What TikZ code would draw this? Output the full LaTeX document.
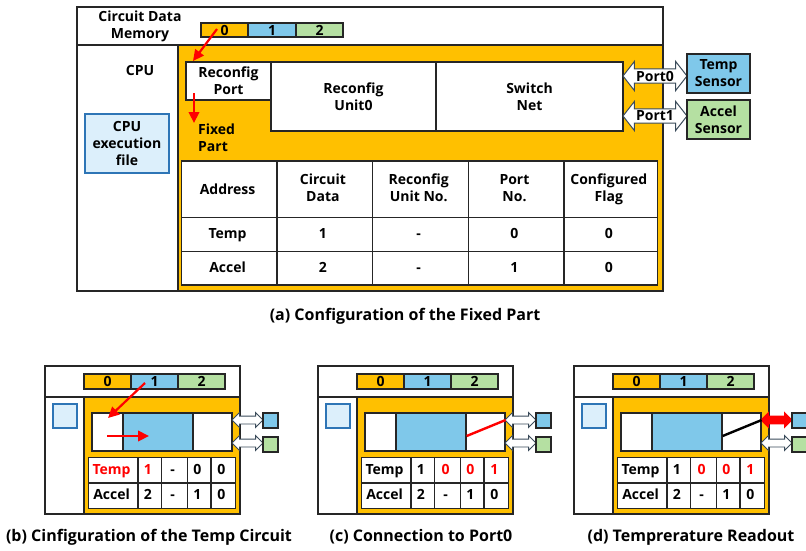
\documentclass[tikz,border=0pt]{standalone}
\usepackage{fontspec}
\setmainfont{Open Sans}
\usetikzlibrary{shapes.arrows,arrows.meta,matrix}

\definecolor{gold}{HTML}{FFC000}
\definecolor{skyfill}{HTML}{7FC8EA}
\definecolor{leaffill}{HTML}{B5E0A2}
\definecolor{filefill}{HTML}{DCEFFB}
\definecolor{filedraw}{HTML}{2E75B6}
\definecolor{portdraw}{HTML}{3A4B5A}
\definecolor{hotred}{HTML}{FF0000}

% two centred lines inside a matrix cell
\newcommand\twoline[2]{\begin{tabular}{@{}c@{}}#1\\#2\end{tabular}}

\tikzset{
  lbl/.style={font=\bfseries\fontsize{14}{17}\selectfont, align=center, inner sep=0},
  caption/.style={font=\bfseries\fontsize{16}{19}\selectfont, inner sep=0},
  frame/.style={draw=black!85, line width=1.3pt, inner sep=0},
  blockbox/.style={frame, fill=white},
  cell/.style={frame, fill=white, anchor=center, font=\bfseries\fontsize{14}{17}\selectfont, align=center},
  onerow/.style={text height=10.5pt, text depth=3pt},
  port/.style={double arrow, draw=portdraw, fill=white, line width=1pt,
    inner xsep=0pt, inner ysep=1.5pt,
    double arrow head extend=7.5pt, double arrow tip angle=104, minimum height=64pt,
    font=\bfseries\fontsize{14}{17}\selectfont},
  smallport/.style={double arrow, draw=portdraw, fill=white, line width=0.9pt,
    inner sep=0pt, double arrow head extend=3.5pt, minimum height=31pt},
  redarrow/.style={draw=hotred, line width=2.2pt, -{Triangle[length=11pt,width=10.5pt]}},
  bigtab/.style={matrix of nodes, inner sep=0, column sep=-1.3pt, row sep=-1.3pt,
    nodes={cell},
    column 1/.style={nodes={minimum width=95.3pt}},
    column 2/.style={nodes={minimum width=95.3pt}},
    column 3/.style={nodes={minimum width=96.3pt}},
    column 4/.style={nodes={minimum width=95.3pt}},
    column 5/.style={nodes={minimum width=93.3pt}},
    row 1/.style={nodes={minimum height=56.3pt}},
    row 2/.style={nodes={minimum height=34.3pt, onerow}},
    row 3/.style={nodes={minimum height=33.3pt, onerow}}},
  smalltab/.style={matrix of nodes, ampersand replacement=\&, inner sep=0,
    column sep=-1.3pt, row sep=-1.3pt,
    nodes={cell, onerow, minimum height=25.3pt},
    column 1/.style={nodes={minimum width=49.3pt}},
    column 2/.style={nodes={minimum width=23.3pt}},
    column 3/.style={nodes={minimum width=26.3pt}},
    column 4/.style={nodes={minimum width=23.3pt}},
    column 5/.style={nodes={minimum width=24.3pt}}},
}

% A reduced copy of the system; #1 name prefix, #2 top-left corner,
% #3 and #4 the two table rows, #5 extra style for the Port0 arrow
\newcommand\minipanel[5]{%
\begin{scope}[shift={(#2)}]
  \node[frame, fill=white, minimum width=195pt, minimum height=148pt] (#1sys) at (97.5,74) {};
  \node[frame, fill=white, minimum width=195pt, minimum height=31pt] (#1mem) at (97.5,15.5) {};
  \node[frame, fill=gold, minimum width=156pt, minimum height=117pt] (#1fix) at (117,89.5) {};
  \node[frame, lbl, fill=gold, minimum width=47pt, minimum height=15pt] (#1m0) at (62.5,15.5) {0};
  \node[frame, lbl, fill=skyfill, minimum width=47pt, minimum height=15pt] (#1m1) at (109.5,15.5) {1};
  \node[frame, lbl, fill=leaffill, minimum width=47pt, minimum height=15pt] (#1m2) at (156.5,15.5) {2};
  \node[draw=filedraw, fill=filefill, line width=1.2pt, minimum size=24pt, inner sep=0] (#1file) at (20,50) {};
  \node[blockbox, minimum width=31pt, minimum height=38pt] (#1rp) at (62.5,66) {};
  \node[blockbox, fill=skyfill, minimum width=70pt, minimum height=38pt] (#1ru) at (113,66) {};
  \node[blockbox, minimum width=39pt, minimum height=38pt] (#1sw) at (167.5,66) {};
  \node[smallport, #5] (#1p0) at (202.5,54) {\rule{0pt}{7pt}};
  \node[smallport] (#1p1) at (202.5,77) {\rule{0pt}{7pt}};
  \node[frame, fill=skyfill, minimum size=15pt] (#1ts) at (225.5,54.5) {};
  \node[frame, fill=leaffill, minimum size=15pt] (#1as) at (225.5,78.5) {};
  \matrix[smalltab] (#1tab) at (117,117) { #3 \\ #4 \\ };
\end{scope}}

\begin{document}
\begin{tikzpicture}[x=1pt,y=-1pt]
\useasboundingbox (0,0) rectangle (806,550);

% ---------- (a) full system ----------
\node[frame, fill=white, minimum width=586pt, minimum height=284pt] (sys) at (370,149) {};
\node[frame, fill=white, minimum width=586pt, minimum height=38pt] (mem) at (370,26) {};
\node[frame, fill=gold, minimum width=485pt, minimum height=246pt] (fix) at (420.5,168) {};
\node[lbl] (memlbl) at (140,26) {Circuit Data\\Memory};
\node[frame, lbl, fill=gold, minimum width=47pt, minimum height=14pt] (m0) at (224.5,30) {0};
\node[frame, lbl, fill=skyfill, minimum width=48pt, minimum height=14pt] (m1) at (272,30) {1};
\node[frame, lbl, fill=leaffill, minimum width=47pt, minimum height=14pt] (m2) at (319.5,30) {2};
\node[lbl] (cpu) at (140,70) {CPU};
\node[lbl, draw=filedraw, fill=filefill, line width=1.2pt, minimum width=84pt, minimum height=59pt]
  (cpufile) at (127,143.5) {CPU\\execution\\file};
\node[blockbox, lbl, minimum width=85pt, minimum height=38pt] (rport) at (228.5,81) {Reconfig\\Port};
\node[blockbox, lbl, minimum width=165pt, minimum height=69pt] (runit) at (353.5,96.5) {Reconfig\\Unit0};
\node[blockbox, lbl, minimum width=187pt, minimum height=69pt] (swnet) at (529.5,96.5) {Switch\\Net};
\node[lbl, align=left, anchor=west] (fixlbl) at (198,138) {Fixed\\Part};
\node[port] (port0) at (655,76) {Port0};
\node[port] (port1) at (655,116) {Port1};
\node[frame, lbl, fill=skyfill, minimum width=63pt, minimum height=39pt] (temps) at (718.5,73.5) {Temp\\Sensor};
\node[frame, lbl, fill=leaffill, minimum width=63pt, minimum height=39pt] (accs) at (718.5,119.5) {Accel\\Sensor};

\matrix[bigtab] (tab) at (419.5,223) {
  Address & \twoline{Circuit}{Data} & \twoline{Reconfig}{Unit No.} & \twoline{Port}{No.} & \twoline{Configured}{Flag} \\
  Temp & 1 & - & 0 & 0 \\
  Accel & 2 & - & 1 & 0 \\
};

\coordinate (ld0) at (217,29);
\coordinate (ld1) at (193,61);
\coordinate (ld2) at (194,93);
\coordinate (ld3) at (194,123);
\draw[redarrow] (ld0) -- (ld1);
\draw[redarrow] (ld2) -- (ld3);

\node[caption] (capa) at (405,316) {(a) Configuration of the Fixed Part};

% ---------- (b) ----------
\minipanel{b}{45,366}
  {|[text=hotred]| Temp \& |[text=hotred]| 1 \& - \& 0 \& 0}
  {Accel \& 2 \& - \& 1 \& 0}{}
\coordinate (bl0) at (145,383);
\coordinate (bl1) at (108,418);
\coordinate (bl2) at (107,436);
\coordinate (bl3) at (149,436);
\draw[redarrow] (bl0) -- (bl1);
\draw[redarrow] (bl2) -- (bl3);
\node[caption] (capb) at (149,537) {(b) Cinfiguration of the Temp Circuit};

% ---------- (c) ----------
\minipanel{c}{318,366}
  {Temp \& 1 \& |[text=hotred]| 0 \& |[text=hotred]| 0 \& |[text=hotred]| 1}
  {Accel \& 2 \& - \& 1 \& 0}{}
\draw[hotred, line width=2.4pt] (cru.east |- 0,436) -- (csw.north east |- 0,420);
\node[caption] (capc) at (421,537) {(c) Connection to Port0};

% ---------- (d) ----------
\minipanel{d}{574,366}
  {Temp \& 1 \& |[text=hotred]| 0 \& |[text=hotred]| 0 \& |[text=hotred]| 1}
  {Accel \& 2 \& - \& 1 \& 0}{draw=hotred, fill=hotred}
\draw[black, line width=2.4pt] (dru.east |- 0,436) -- (dsw.north east |- 0,420);
\node[caption] (capd) at (691,537) {(d) Temprerature Readout};
\end{tikzpicture}
\end{document}
